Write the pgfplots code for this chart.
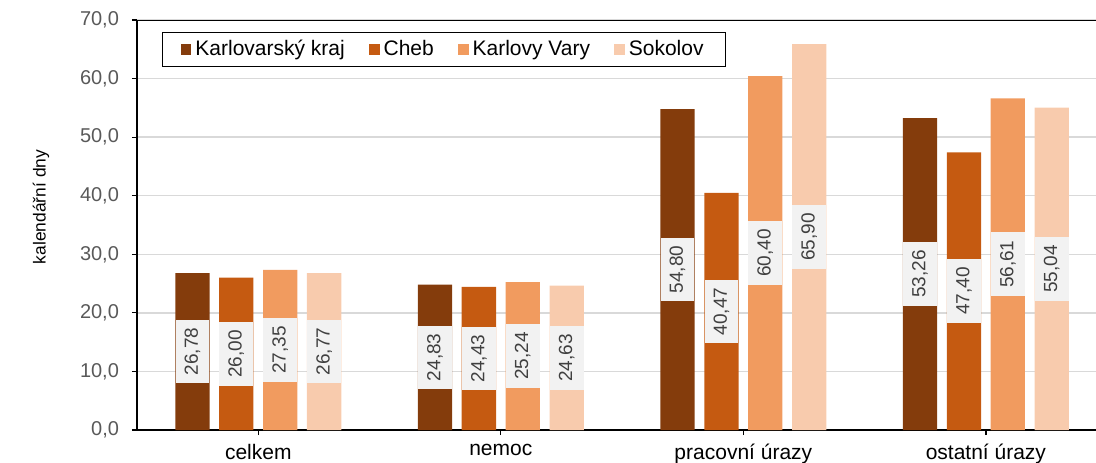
\documentclass[border=0pt]{standalone}
\usepackage{pgfplots}
\pgfplotsset{compat=1.18}
\usepackage{pgfplotstable}
\usepackage{fontspec}
\setmainfont{Liberation Sans}
\definecolor{ckk}{HTML}{843C0C}
\definecolor{cch}{HTML}{C55A11}
\definecolor{ckv}{HTML}{F19B5F}
\definecolor{cso}{HTML}{F8CBAD}
\definecolor{lbl}{HTML}{F2F2F2}
\definecolor{lbltext}{HTML}{404040}
\definecolor{grd}{HTML}{D9D9D9}
\definecolor{tkl}{HTML}{595959}

\pgfplotstableread{
x y lab
0 26.78 26,78
1 24.83 24,83
2 54.80 54,80
3 53.26 53,26
}\kk
\pgfplotstableread{
x y lab
0 26.00 26,00
1 24.43 24,43
2 40.47 40,47
3 47.40 47,40
}\ch
\pgfplotstableread{
x y lab
0 27.35 27,35
1 25.24 25,24
2 60.40 60,40
3 56.61 56,61
}\kv
\pgfplotstableread{
x y lab
0 26.77 26,77
1 24.63 24,63
2 65.90 65,90
3 55.04 55,04
}\so

\begin{document}
\begin{tikzpicture}
\begin{axis}[
  at={(0,0)}, anchor=south west,
  scale only axis, width=479.5pt, height=205pt,
  xmin=-0.5, xmax=3.454, ymin=0, ymax=70,
  ytick={0,10,...,70},
  /pgf/number format/fixed, /pgf/number format/fixed zerofill,
  /pgf/number format/precision=1, /pgf/number format/use comma,
  /pgf/number format/assume math mode=true,
  yticklabel style={text=tkl, font=\fontsize{10}{12}\selectfont, xshift=-3pt},
  xtick={0,1,2,3},
  xticklabels={celkem,nemoc,pracovní úrazy,ostatní úrazy},
  xticklabel style={font=\fontsize{10.5}{12}\selectfont, yshift=-1pt},
  ymajorgrids, grid style={grd, line width=0.7pt},
  axis x line*=bottom, axis y line*=left,
  axis line style={black, line width=0.9pt, -},
  tick align=outside, major tick length=2.5pt,
  tick style={black, line width=0.6pt},
  ylabel={kalendářní dny},
  ylabel style={at={(axis description cs:-0.1000,0.544)}, anchor=center, font=\fontsize{8.7}{10}\selectfont},
  legend style={at={(0.0261,0.9707)}, anchor=north west, legend columns=4,
    draw=black, line width=0.6pt, font=\fontsize{10.5}{12}\selectfont,
    inner xsep=9pt, inner ysep=1.8pt,
    /tikz/every even column/.append style={column sep=10pt}},
  legend image code/.code={\fill[#1] (0pt,-2.7pt) rectangle (5.4pt,2.7pt);},
  legend cell align=left,
  every node near coord/.style={rotate=90, anchor=center, fill=lbl, text=lbltext,
    font=\fontsize{9.5}{11}\selectfont, inner xsep=4pt, inner ysep=4.5pt},
]
\addplot[ybar, bar width=0.1414, bar shift=-0.2715, fill=ckk, draw=none] table[x=x,y=y]{\kk};
\addlegendentry{Karlovarský kraj}
\addplot[ybar, bar width=0.1414, bar shift=-0.0905, fill=cch, draw=none] table[x=x,y=y]{\ch};
\addlegendentry{Cheb}
\addplot[ybar, bar width=0.1414, bar shift=0.0905, fill=ckv, draw=none] table[x=x,y=y]{\kv};
\addlegendentry{Karlovy Vary}
\addplot[ybar, bar width=0.1414, bar shift=0.2715, fill=cso, draw=none] table[x=x,y=y]{\so};
\addlegendentry{Sokolov}

\addplot[forget plot, draw=none, mark=none, nodes near coords, point meta=explicit symbolic]
  table[x expr=\thisrow{x}-0.2715, y expr=\thisrow{y}/2, meta=lab]{\kk};
\addplot[forget plot, draw=none, mark=none, nodes near coords, point meta=explicit symbolic]
  table[x expr=\thisrow{x}-0.0905, y expr=\thisrow{y}/2, meta=lab]{\ch};
\addplot[forget plot, draw=none, mark=none, nodes near coords, point meta=explicit symbolic]
  table[x expr=\thisrow{x}+0.0905, y expr=\thisrow{y}/2, meta=lab]{\kv};
\addplot[forget plot, draw=none, mark=none, nodes near coords, point meta=explicit symbolic]
  table[x expr=\thisrow{x}+0.2715, y expr=\thisrow{y}/2, meta=lab]{\so};

\draw[black, line width=0.9pt] (rel axis cs:0,1) -- (rel axis cs:1,1);
\end{axis}
\pgfresetboundingbox
\path[use as bounding box] (-68.5pt,-16pt) rectangle (479.5pt,215pt);
\end{tikzpicture}
\end{document}
